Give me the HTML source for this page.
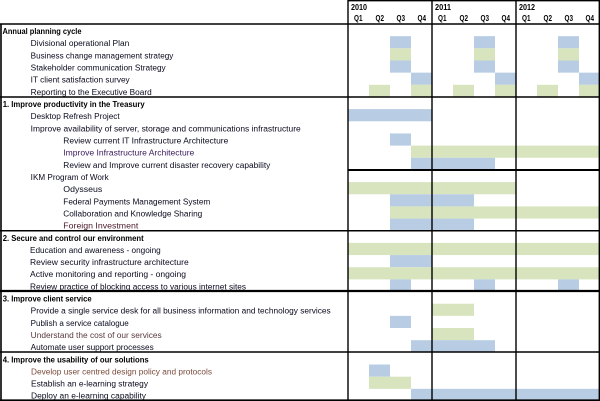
<!DOCTYPE html>
<html><head><meta charset="utf-8"><style>
html,body{margin:0;padding:0;background:#fff;}
svg{display:block;}
text{font-family:"Liberation Sans",Arial,sans-serif;font-size:8px;}
.b{font-weight:bold;}
.h{font-weight:600;}
</style></head><body>
<svg width="600" height="401" viewBox="0 0 600 401" xmlns="http://www.w3.org/2000/svg">
<rect width="600" height="401" fill="#fff"/>
<g id="bars">
<rect x="390" y="36.16" width="21" height="12.16" fill="#b8cce4"/>
<rect x="474" y="36.16" width="21" height="12.16" fill="#b8cce4"/>
<rect x="558" y="36.16" width="21" height="12.16" fill="#b8cce4"/>
<rect x="390" y="48.32" width="21" height="12.16" fill="#d7e4bd"/>
<rect x="474" y="48.32" width="21" height="12.16" fill="#d7e4bd"/>
<rect x="558" y="48.32" width="21" height="12.16" fill="#d7e4bd"/>
<rect x="390" y="60.48" width="21" height="12.17" fill="#b8cce4"/>
<rect x="474" y="60.48" width="21" height="12.17" fill="#b8cce4"/>
<rect x="558" y="60.48" width="21" height="12.17" fill="#b8cce4"/>
<rect x="411" y="72.65" width="21" height="12.16" fill="#b8cce4"/>
<rect x="495" y="72.65" width="21" height="12.16" fill="#b8cce4"/>
<rect x="579" y="72.65" width="21" height="12.16" fill="#b8cce4"/>
<rect x="369" y="84.81" width="21" height="12.16" fill="#d7e4bd"/>
<rect x="411" y="84.81" width="21" height="12.16" fill="#d7e4bd"/>
<rect x="453" y="84.81" width="21" height="12.16" fill="#d7e4bd"/>
<rect x="495" y="84.81" width="21" height="12.16" fill="#d7e4bd"/>
<rect x="537" y="84.81" width="21" height="12.16" fill="#d7e4bd"/>
<rect x="579" y="84.81" width="21" height="12.16" fill="#d7e4bd"/>
<rect x="348" y="109.13" width="84" height="12.16" fill="#b8cce4"/>
<rect x="390" y="133.45" width="21" height="12.16" fill="#b8cce4"/>
<rect x="411" y="145.61" width="189" height="12.16" fill="#d7e4bd"/>
<rect x="411" y="157.77" width="84" height="12.17" fill="#b8cce4"/>
<rect x="348" y="182.10" width="168" height="12.16" fill="#d7e4bd"/>
<rect x="390" y="194.26" width="84" height="12.16" fill="#b8cce4"/>
<rect x="390" y="206.42" width="210" height="12.16" fill="#d7e4bd"/>
<rect x="390" y="218.58" width="84" height="12.16" fill="#b8cce4"/>
<rect x="348" y="242.90" width="252" height="12.16" fill="#d7e4bd"/>
<rect x="390" y="255.06" width="42" height="12.17" fill="#b8cce4"/>
<rect x="348" y="267.23" width="252" height="12.16" fill="#d7e4bd"/>
<rect x="390" y="279.39" width="21" height="12.16" fill="#b8cce4"/>
<rect x="474" y="279.39" width="21" height="12.16" fill="#b8cce4"/>
<rect x="558" y="279.39" width="21" height="12.16" fill="#b8cce4"/>
<rect x="432" y="303.71" width="42" height="12.16" fill="#d7e4bd"/>
<rect x="390" y="315.87" width="21" height="12.16" fill="#b8cce4"/>
<rect x="432" y="328.03" width="42" height="12.16" fill="#d7e4bd"/>
<rect x="411" y="340.19" width="84" height="12.16" fill="#b8cce4"/>
<rect x="369" y="364.52" width="21" height="12.16" fill="#b8cce4"/>
<rect x="369" y="376.68" width="42" height="12.16" fill="#d7e4bd"/>
<rect x="411" y="388.84" width="189" height="12.16" fill="#b8cce4"/>
</g>

<g id="lines" stroke="#000" fill="none">
<line x1="348" y1="0.7" x2="600" y2="0.7" stroke-width="1.4"/>
<line x1="0" y1="24" x2="600" y2="24" stroke-width="1.5"/>
<line x1="0" y1="96.97" x2="600" y2="96.97" stroke-width="1.5"/>
<line x1="348" y1="169.94" x2="600" y2="169.94" stroke-width="2"/>
<line x1="0" y1="230.74" x2="600" y2="230.74" stroke-width="1.5"/>
<line x1="0" y1="291" x2="600" y2="291" stroke-width="2.2"/>
<line x1="0" y1="352" x2="600" y2="352" stroke-width="1.6"/>
<line x1="0" y1="400.2" x2="600" y2="400.2" stroke-width="1.6"/>
<line x1="1" y1="24" x2="1" y2="401" stroke-width="1.6"/>
<line x1="348" y1="0" x2="348" y2="401" stroke-width="1.4"/>
<line x1="432" y1="0" x2="432" y2="401" stroke-width="1.4"/>
<line x1="516" y1="0" x2="516" y2="401" stroke-width="1.4"/>
<line x1="599.3" y1="0" x2="599.3" y2="401" stroke-width="1.4"/>
</g>

<g id="header" fill="#000">
<text class="b" x="351" y="10" textLength="16" lengthAdjust="spacingAndGlyphs">2010</text>
<text class="b" x="435" y="10" textLength="16" lengthAdjust="spacingAndGlyphs">2011</text>
<text class="b" x="519" y="10" textLength="16" lengthAdjust="spacingAndGlyphs">2012</text>
<g class="h">
<text x="354" y="21" textLength="8.5" lengthAdjust="spacingAndGlyphs">Q1</text><text x="375.5" y="21" textLength="8.5" lengthAdjust="spacingAndGlyphs">Q2</text><text x="396.5" y="21" textLength="8.5" lengthAdjust="spacingAndGlyphs">Q3</text><text x="417.5" y="21" textLength="8.5" lengthAdjust="spacingAndGlyphs">Q4</text>
<text x="438" y="21" textLength="8.5" lengthAdjust="spacingAndGlyphs">Q1</text><text x="459.5" y="21" textLength="8.5" lengthAdjust="spacingAndGlyphs">Q2</text><text x="480.5" y="21" textLength="8.5" lengthAdjust="spacingAndGlyphs">Q3</text><text x="501.5" y="21" textLength="8.5" lengthAdjust="spacingAndGlyphs">Q4</text>
<text x="522" y="21" textLength="8.5" lengthAdjust="spacingAndGlyphs">Q1</text><text x="543.5" y="21" textLength="8.5" lengthAdjust="spacingAndGlyphs">Q2</text><text x="564.5" y="21" textLength="8.5" lengthAdjust="spacingAndGlyphs">Q3</text><text x="585.5" y="21" textLength="8.5" lengthAdjust="spacingAndGlyphs">Q4</text>
</g>
</g>

<g id="labels" fill="#0a0a1e">
<text class="b" x="2.5" y="34" textLength="79" lengthAdjust="spacingAndGlyphs" fill="#000">Annual planning cycle</text>
<text x="30.7" y="46.2" textLength="98.6" lengthAdjust="spacingAndGlyphs">Divisional operational Plan</text>
<text x="30.7" y="58.3" textLength="142.6" lengthAdjust="spacingAndGlyphs">Business change management strategy</text>
<text x="30.7" y="70.5" textLength="135" lengthAdjust="spacingAndGlyphs">Stakeholder communication Strategy</text>
<text x="30.7" y="82.6" textLength="99" lengthAdjust="spacingAndGlyphs">IT client satisfaction survey</text>
<text x="30.7" y="94.8" textLength="121" lengthAdjust="spacingAndGlyphs">Reporting to the Executive Board</text>

<text class="b" x="2.7" y="107" textLength="142" lengthAdjust="spacingAndGlyphs" fill="#000">1. Improve productivity in the Treasury</text>
<text x="30.7" y="119.1" textLength="89" lengthAdjust="spacingAndGlyphs">Desktop Refresh Project</text>
<text x="30.7" y="131.3" textLength="270" lengthAdjust="spacingAndGlyphs">Improve availability of server, storage and communications infrastructure</text>
<text x="63.3" y="143.5" textLength="165" lengthAdjust="spacingAndGlyphs">Review current IT Infrastructure Architecture</text>
<text x="63.3" y="155.6" textLength="131" lengthAdjust="spacingAndGlyphs" fill="#3a1a5a">Improve Infrastructure Architecture</text>
<text x="63.3" y="167.8" textLength="207" lengthAdjust="spacingAndGlyphs">Review and Improve current disaster recovery capability</text>
<text x="30.7" y="180" textLength="78" lengthAdjust="spacingAndGlyphs">IKM Program of Work</text>
<text x="63.3" y="192.1" textLength="39" lengthAdjust="spacingAndGlyphs">Odysseus</text>
<text x="63.3" y="204.3" textLength="147" lengthAdjust="spacingAndGlyphs">Federal Payments Management System</text>
<text x="63.3" y="216.4" textLength="139" lengthAdjust="spacingAndGlyphs">Collaboration and Knowledge Sharing</text>
<text x="63.3" y="228.6" textLength="75" lengthAdjust="spacingAndGlyphs" fill="#4a1a2a">Foreign Investment</text>

<text class="b" x="2.7" y="240.8" textLength="141" lengthAdjust="spacingAndGlyphs" fill="#000">2. Secure and control our environment</text>
<text x="30" y="252.9" textLength="130.7" lengthAdjust="spacingAndGlyphs">Education and awareness - ongoing</text>
<text x="30" y="265.1" textLength="158.7" lengthAdjust="spacingAndGlyphs">Review security infrastructure architecture</text>
<text x="30" y="277.2" textLength="156" lengthAdjust="spacingAndGlyphs">Active monitoring and reporting - ongoing</text>
<text x="30" y="289.4" textLength="216" lengthAdjust="spacingAndGlyphs">Review practice of blocking access to various internet sites</text>

<text class="b" x="2.7" y="301.5" textLength="89" lengthAdjust="spacingAndGlyphs" fill="#000">3. Improve client service</text>
<text x="30.7" y="313.7" textLength="300" lengthAdjust="spacingAndGlyphs">Provide a single service desk for all business information and technology services</text>
<text x="30.7" y="325.9" textLength="98" lengthAdjust="spacingAndGlyphs">Publish a service catalogue</text>
<text x="30.7" y="338" textLength="131" lengthAdjust="spacingAndGlyphs" fill="#5a3a3a">Understand the cost of our services</text>
<text x="30.7" y="350.2" textLength="123" lengthAdjust="spacingAndGlyphs">Automate user support processes</text>

<text class="b" x="2.7" y="362.4" textLength="146" lengthAdjust="spacingAndGlyphs" fill="#000">4. Improve the usability of our solutions</text>
<text x="31" y="374.5" textLength="181" lengthAdjust="spacingAndGlyphs" fill="#7a4a3a">Develop user centred design policy and protocols</text>
<text x="31" y="386.7" textLength="117" lengthAdjust="spacingAndGlyphs">Establish an e-learning strategy</text>
<text x="31" y="398.6" textLength="115" lengthAdjust="spacingAndGlyphs">Deploy an e-learning capability</text>
</g>
</svg>
</body></html>
